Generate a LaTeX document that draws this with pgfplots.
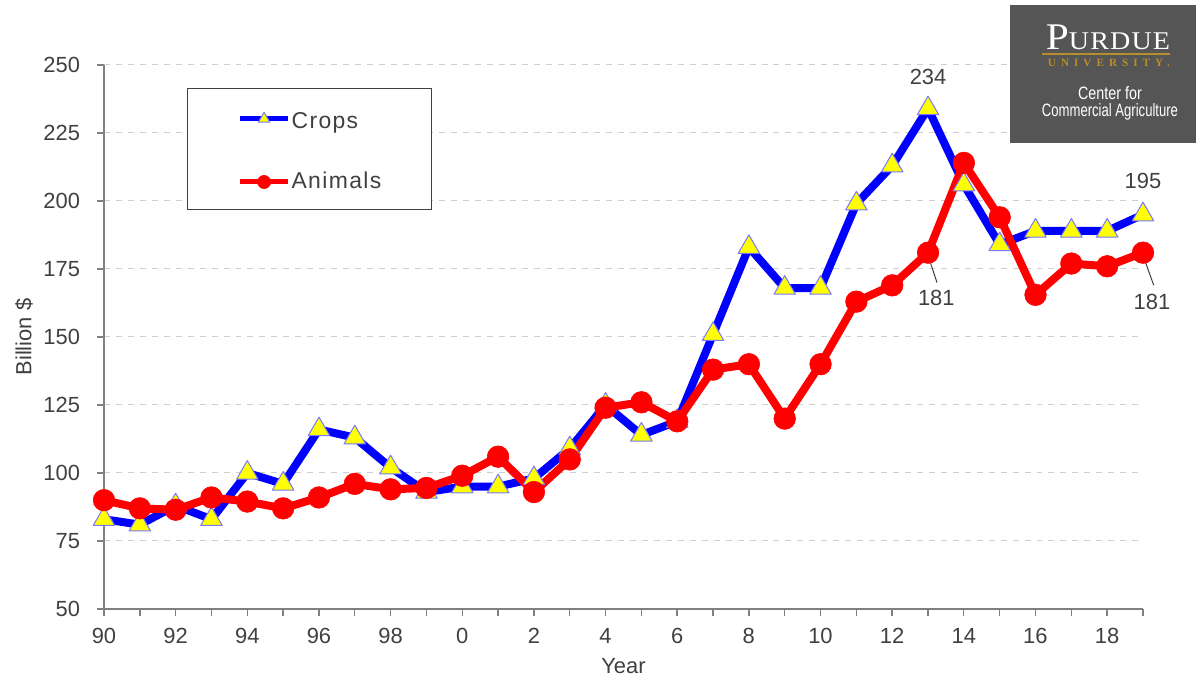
\documentclass[border=0pt]{standalone}
\usepackage{pgfplots}
\pgfplotsset{compat=1.18}
\usepackage{fontspec}
\usepackage{graphicx}
\setmainfont{Liberation Sans}
\newfontfamily\seriffont{Liberation Serif}
\definecolor{txt}{HTML}{404040}
\definecolor{axisgray}{HTML}{808080}
\definecolor{gridgray}{HTML}{CFCFCF}
\definecolor{cropblue}{HTML}{0000FF}
\definecolor{animred}{HTML}{FF0000}
\definecolor{markyellow}{HTML}{FFFF00}
\definecolor{markedge}{HTML}{7777FF}
\definecolor{logogray}{HTML}{555555}
\definecolor{gold}{HTML}{B98E2A}
\begin{document}
\begin{tikzpicture}
\useasboundingbox (-52bp,-35bp) rectangle (546bp,304.5bp);
\fill[white] (-52bp,-35bp) rectangle (546bp,304.5bp);
\begin{axis}[
  at={(0,0)}, anchor=south west,
  scale only axis, width=519.5bp, height=272bp,
  xmin=1990, xmax=2019, ymin=50, ymax=250,
  clip=false,
  axis x line=bottom, axis y line=left,
  axis line style={-, draw=axisgray, line width=0.8bp},
  xtick={1990,...,2019},
  xticklabels={90,,92,,94,,96,,98,,0,,2,,4,,6,,8,,10,,12,,14,,16,,18,},
  ytick={50,75,...,250},
  tick align=outside, major tick length=3.5bp,
  tick style={draw=axisgray, line width=0.7bp},
  ymajorgrids, grid style={draw=gridgray, dashed, line width=0.5bp},
  tick label style={font=\fontsize{11}{13}\selectfont, text=txt},
  xticklabel style={yshift=-2.5bp},
  yticklabel style={xshift=-5bp},
  /pgf/number format/assume math mode=true,
  xlabel={Year}, ylabel={Billion \$},
  label style={font=\fontsize{11}{13}\selectfont, text=txt},
  xlabel style={at={(axis description cs:0.5,0)}, anchor=center, yshift=-28.5bp},
  ylabel style={at={(axis description cs:-0.077,0.5)}, anchor=center},
  legend style={at={(axis description cs:0.0799,0.9577)}, anchor=north west,
    draw=txt, line width=0.6bp,
    inner xsep=25bp, inner ysep=9bp, row sep=20.5bp,
    font=\fontsize{11.5}{13}\selectfont\addfontfeature{LetterSpace=6}, text=txt,
    nodes={inner sep=0pt},
    /tikz/every odd column/.append style={column sep=0.5bp}},
  legend cell align=left,
  legend image code/.code={\draw[mark repeat=2,mark phase=2] plot coordinates {(0bp,0bp) (12bp,0bp) (24bp,0bp)};},
  legend image post style={line width=2.5bp, mark size=3.3bp},
]
\addplot[cropblue, line width=4bp, line join=round, mark=triangle*, mark size=6.2bp,
  mark options={fill=markyellow, draw=markedge, line width=0.5bp, solid}]
coordinates {
(1990,83) (1991,81) (1992,88) (1993,83) (1994,100) (1995,96) (1996,116) (1997,113)
(1998,102) (1999,93) (2000,95) (2001,95) (2002,98) (2003,109) (2004,125) (2005,114)
(2006,119) (2007,151) (2008,183) (2009,168) (2010,168) (2011,199) (2012,213) (2013,234)
(2014,206) (2015,184) (2016,189) (2017,189) (2018,189) (2019,195)
};
\addlegendentry{\rule{0pt}{10.8bp}Crops}
\addplot[animred, line width=4bp, line join=round, mark=*, mark size=5.4bp,
  mark options={fill=animred, draw=animred, line width=0.3bp, solid}]
coordinates {
(1990,90) (1991,87) (1992,86.5) (1993,91) (1994,89.5) (1995,87) (1996,91) (1997,96)
(1998,94) (1999,94.5) (2000,99) (2001,106) (2002,93) (2003,105) (2004,124) (2005,126)
(2006,119) (2007,138) (2008,140) (2009,120) (2010,140) (2011,163) (2012,169) (2013,181)
(2014,214) (2015,194) (2016,165.5) (2017,177) (2018,176) (2019,181)
};
\addlegendentry{Animals}
\node[font=\fontsize{11}{13}\selectfont, text=txt] at (axis cs:2013,245.5) {234};
\node[font=\fontsize{11}{13}\selectfont, text=txt] at (axis cs:2019,207.2) {195};
\draw[txt, line width=0.5bp] (axis cs:2013,180) -- (axis cs:2013.25,170);
\node[font=\fontsize{11}{13}\selectfont, text=txt] at (axis cs:2013.23,164.5) {181};
\draw[txt, line width=0.5bp] (axis cs:2019,180) -- (axis cs:2019.3,169);
\node[font=\fontsize{11}{13}\selectfont, text=txt] at (axis cs:2019.25,163) {181};
\end{axis}
% logo
\fill[logogray] (453bp,233bp) rectangle (546bp,302bp);
\node[anchor=base, text=white, inner sep=0pt] at (502bp,279.5bp)
  {\scalebox{1.1}[1]{\seriffont\fontsize{18.9}{19}\selectfont P\fontsize{12.8}{13}\selectfont\addfontfeature{LetterSpace=4}URDUE}};
\draw[gold, line width=1.2bp] (469bp,277.5bp) -- (533bp,277.5bp);
\node[anchor=base, text=gold, inner sep=0pt] at (502.5bp,271bp)
  {\seriffont\bfseries\fontsize{5.6}{6}\selectfont\addfontfeature{LetterSpace=45}UNIVERSITY.};
\node[anchor=base, text=white, inner sep=0pt] at (503bp,254.5bp)
  {\scalebox{0.8}[1]{\fontsize{9}{10}\selectfont Center for}};
\node[anchor=base, text=white, inner sep=0pt] at (503bp,246bp)
  {\scalebox{0.73}[1]{\fontsize{9}{10}\selectfont Commercial Agriculture}};
\end{tikzpicture}
\end{document}
